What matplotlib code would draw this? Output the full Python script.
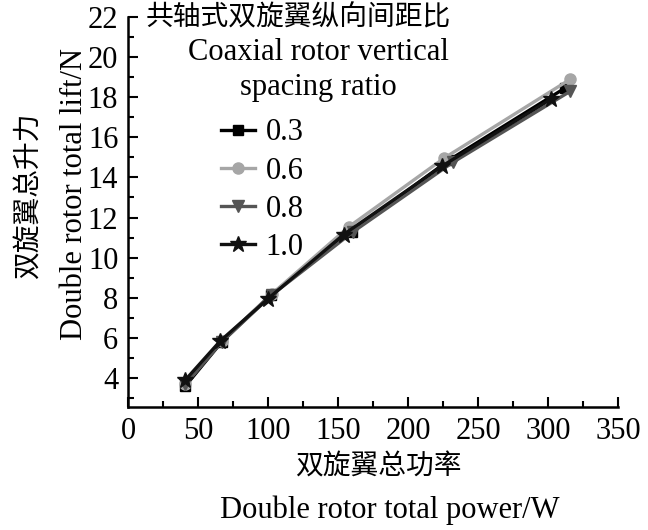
import matplotlib
matplotlib.use("Agg")
import matplotlib.pyplot as plt
from matplotlib.ticker import MultipleLocator

plt.rcParams['font.family'] = ['Liberation Serif', 'Noto Sans CJK SC']

ratios = ["0.3", "0.6", "0.8", "1.0"]
power_03 = [41, 67, 102, 160, 229, 312]
lift_03 = [3.6, 5.8, 8.15, 11.3, 14.85, 18.45]
power_06 = [41, 67, 103, 158, 226, 316]
lift_06 = [3.7, 5.85, 8.2, 11.55, 14.97, 18.9]
power_08 = [41, 67, 103, 161, 232, 316]
lift_08 = [3.7, 5.8, 8.15, 11.3, 14.75, 18.3]
power_10 = [41, 66, 100, 154, 224, 302]
lift_10 = [3.9, 5.85, 7.95, 11.15, 14.55, 17.9]

series = [
    (power_03, lift_03, "black", "s", 7),
    (power_06, lift_06, "#a6a6a6", "o", 8),
    (power_08, lift_08, "#555555", "v", 9),
    (power_10, lift_10, "#111111", "*", 12),
]

fs = 22      # latin text
fs_cn = 20   # chinese text
fig = plt.figure(figsize=(6.48, 5.3), dpi=100)
ax = fig.add_axes([128 / 648, 1 - 407 / 530, 490 / 648, 390 / 530])

for (x, y, c, m, ms), lab in zip(series, ratios):
    ax.plot(x, y, color=c, marker=m, markersize=ms, linewidth=2.4, label=lab)

ax.set_xlim(0, 350)
ax.set_ylim(2.55, 22)
ax.xaxis.set_major_locator(MultipleLocator(50))
ax.xaxis.set_minor_locator(MultipleLocator(25))
ax.yaxis.set_minor_locator(MultipleLocator(1))
ax.set_yticks([4, 6, 8, 10, 12, 14, 16, 18, 20, 22])
ax.tick_params(which="both", direction="in", labelsize=fs, width=1.5)
ax.tick_params(which="major", length=7, pad=7)
ax.tick_params(which="minor", length=4)
for s in ["top", "right"]:
    ax.spines[s].set_visible(False)
for s in ["left", "bottom"]:
    ax.spines[s].set_linewidth(1.8)

ax.text(0.035, (407 - 18) / 390, "共轴式双旋翼纵向间距比", transform=ax.transAxes,
        fontsize=fs_cn, va="center", ha="left")
ax.text(0.388, (407 - 52) / 390, "Coaxial rotor vertical", transform=ax.transAxes,
        fontsize=fs, va="center", ha="center")
ax.text(0.388, (407 - 87) / 390, "spacing ratio", transform=ax.transAxes,
        fontsize=fs, va="center", ha="center")

ax.legend(loc="upper left", bbox_to_anchor=(0.19, 0.74), frameon=False,
          fontsize=fs, handlelength=1.1, handletextpad=0.35, labelspacing=0.3,
          borderpad=0, borderaxespad=0)

fig.text(30 / 648, 1 - 196 / 530, "双旋翼总升力", rotation=90, fontsize=fs_cn,
         ha="center", va="center")
fig.text(75 / 648, 1 - 194 / 530, "Double rotor total lift/N", rotation=90,
         fontsize=fs, ha="center", va="center")
fig.text(378 / 648, 1 - 467 / 530, "双旋翼总功率", fontsize=fs_cn,
         ha="center", va="center")
fig.text(390 / 648, 1 - 510 / 530, "Double rotor total power/W", fontsize=fs,
         ha="center", va="center")

fig.savefig("out.png", dpi=100)
